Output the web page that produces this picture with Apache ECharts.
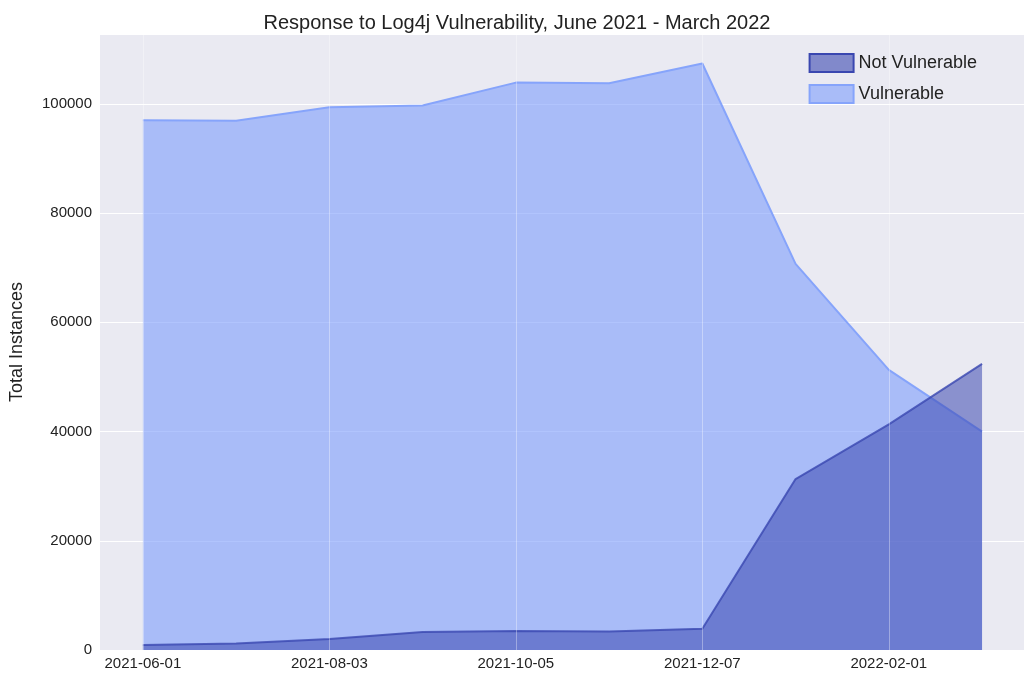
<!DOCTYPE html>
<html>
<head>
<meta charset="utf-8">
<script src="https://cdn.jsdelivr.net/npm/echarts@6/dist/echarts.min.js"></script>
<style>html,body{margin:0;padding:0;background:#fff}#main{width:1034px;height:680px}</style>
</head>
<body>
<div id="main"></div>
<script>
// dates for each sample, only every other one is labelled
var dates = ['2021-06-01', '2021-07-02', '2021-08-03', '2021-09-03', '2021-10-05',
    '2021-11-05', '2021-12-07', '2022-01-04', '2022-02-01', '2022-03-01'];
var notVulnerable = [900, 1200, 2000, 3300, 3500, 3400, 3900, 31300, 41300, 52400];
var vulnerable = [97000, 96900, 99400, 99700, 103900, 103800, 107400, 70700, 51300, 40000];
var labelIdx = [0, 2, 4, 6, 8];

var font = '"Liberation Sans", Arial, sans-serif';
var chart = echarts.init(document.getElementById('main'));

function pairs(arr) {
    return arr.map(function (v, i) { return [i, v]; });
}

chart.setOption({
    animation: false,
    backgroundColor: '#fff',
    title: {
        text: 'Response to Log4j Vulnerability, June 2021 - March 2022',
        left: 'center', top: 8,
        textStyle: { fontFamily: font, fontSize: 20, fontWeight: 'normal', color: '#222' }
    },
    legend: {
        right: 52, top: 48, orient: 'vertical', itemGap: 11,
        itemWidth: 44, itemHeight: 18, icon: 'rect',
        textStyle: { fontFamily: font, fontSize: 18, color: '#222' },
        data: ['Not Vulnerable', 'Vulnerable']
    },
    grid: { left: 95, right: 10, top: 34, bottom: 30, backgroundColor: '#eaeaf2', show: true, borderWidth: 0 },
    xAxis: {
        type: 'value', min: -0.46, max: 9.45,
        axisLine: { show: false }, axisTick: { show: false }, splitLine: { show: false },
        axisLabel: {
            customValues: labelIdx,
            fontFamily: font, fontSize: 15, color: '#222', margin: 6,
            formatter: function (v) { return dates[Math.round(v)] || ''; }
        }
    },
    yAxis: {
        type: 'value', min: 0, max: 112800, interval: 20000,
        name: 'Total Instances', nameLocation: 'middle', nameGap: 74,
        nameTextStyle: { fontFamily: font, fontSize: 18, color: '#222' },
        axisLine: { show: false }, axisTick: { show: false },
        axisLabel: {
            fontFamily: font, fontSize: 15, color: '#222',
            showMaxLabel: false,
            formatter: function (v) { return v > 100000 ? '' : v; }
        },
        splitLine: { lineStyle: { color: '#fff', width: 1 } }
    },
    series: [{
        type: 'line', data: [], silent: true, z: 1,
        markLine: {
            silent: true, symbol: 'none', label: { show: false },
            lineStyle: { color: 'rgba(255,255,255,0.35)', width: 1, type: 'solid' },
            data: labelIdx.map(function (i) { return { xAxis: i }; })
        }
    }, {
        name: 'Not Vulnerable', type: 'line', data: pairs(notVulnerable),
        symbol: 'none', z: 3,
        itemStyle: { color: 'rgba(58,71,176,0.6)', borderColor: '#3a47b0', borderWidth: 1 },
        lineStyle: { color: '#3a47b0', width: 2, opacity: 0.8 },
        areaStyle: { color: '#3a47b0', opacity: 0.55 }
    }, {
        name: 'Vulnerable', type: 'line', data: pairs(vulnerable),
        symbol: 'none', z: 2,
        itemStyle: { color: 'rgba(125,157,251,0.6)', borderColor: '#86a4fb', borderWidth: 1 },
        lineStyle: { color: '#86a4fb', width: 2 },
        areaStyle: { color: '#7d9dfb', opacity: 0.6 }
    }]
});
</script>
</body>
</html>
